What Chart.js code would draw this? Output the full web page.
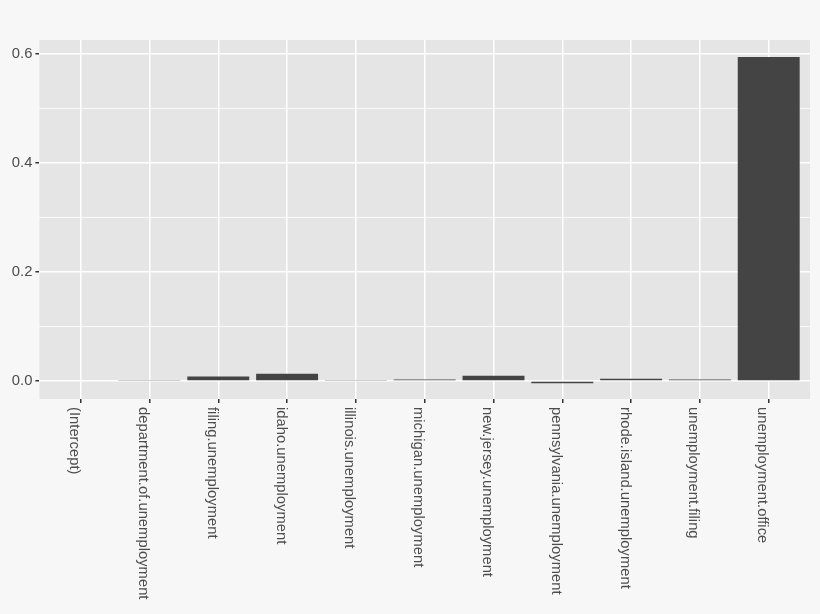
<!DOCTYPE html>
<html>
<head>
<meta charset="utf-8">
<script src="https://cdn.jsdelivr.net/npm/chart.js@4/dist/chart.umd.min.js"></script>
<style>
  html, body { margin: 0; padding: 0; background: #f7f7f7; }
  #wrap { width: 820px; height: 614px; }
</style>
</head>
<body>
<div id="wrap"><canvas id="chartCoef"></canvas></div>
<script>
/* --------------------------------------------
   Coefficient bar chart (ggplot look)
--------------------------------------------- */

const terms = [
  "(Intercept)",
  "department.of.unemployment",
  "filing.unemployment",
  "idaho.unemployment",
  "illinois.unemployment",
  "michigan.unemployment",
  "new.jersey.unemployment",
  "pennsylvania.unemployment",
  "rhode.island.unemployment",
  "unemployment.filing",
  "unemployment.office"
];
const coefs = [0, 0.0018, 0.0084, 0.0134, 0.0018, 0.0028, 0.0097, -0.004, 0.0042, 0.003, 0.595];
const yTicks = [0, 0.1, 0.2, 0.3, 0.4, 0.5, 0.6];

const FONT = "'Liberation Sans', Arial, sans-serif";
const TEXT = "#4d4d4d";

function isMajor(v) {
  return Math.round(v * 10) % 2 === 0;
}

// grey panel behind the plot area
const panelBg = {
  id: "panelBg",
  beforeDraw(chart) {
    const a = chart.chartArea, ctx = chart.ctx;
    ctx.save();
    ctx.fillStyle = "#e5e5e5";
    ctx.fillRect(a.left, a.top, a.right - a.left, a.bottom - a.top);
    ctx.restore();
  }
};

// x labels rotated clockwise, reading top to bottom
const xLabels = {
  id: "xLabels",
  afterDraw(chart) {
    const x = chart.scales.x, ctx = chart.ctx;
    ctx.save();
    ctx.fillStyle = TEXT;
    ctx.font = "14.8px " + FONT;
    ctx.textAlign = "left";
    ctx.textBaseline = "top";
    terms.forEach((t, i) => {
      const px = x.getPixelForValue(i);
      ctx.save();
      ctx.translate(px + 1, chart.chartArea.bottom + 8);
      ctx.rotate(Math.PI / 2);
      ctx.fillText(t, 0, 0);
      ctx.restore();
    });
    ctx.restore();
  }
};

new Chart(document.getElementById("chartCoef"), {
  type: "bar",
  data: {
    datasets: [{
      data: coefs.map((v, i) => ({ x: i, y: v })),
      backgroundColor: "#444444",
      borderWidth: 0,
      categoryPercentage: 0.9,
      barPercentage: 1
    }]
  },
  options: {
    responsive: true,
    maintainAspectRatio: false,
    animation: false,
    layout: { padding: { top: 40, right: 10, left: 0, bottom: 0 } },
    plugins: {
      legend: { display: false },
      tooltip: { enabled: false }
    },
    scales: {
      x: {
        type: "linear",
        min: -0.6,
        max: 10.6,
        offset: false,
        afterBuildTicks: s => { s.ticks = terms.map((t, i) => ({ value: i })); },
        afterFit: s => { s.height = 215; },
        border: { display: false },
        grid: {
          offset: false,
          color: "#ffffff",
          lineWidth: 1.5,
          tickColor: "#333333",
          tickLength: 4
        },
        ticks: { display: false }
      },
      y: {
        min: -0.033,
        max: 0.626,
        afterBuildTicks: s => { s.ticks = yTicks.map(v => ({ value: v })); },
        afterFit: s => { s.width = 39.4; },
        border: { display: false },
        grid: {
          color: "#ffffff",
          lineWidth: c => isMajor(c.tick.value) ? 1.5 : 0.75,
          tickColor: c => isMajor(c.tick.value) ? "#333333" : "rgba(0,0,0,0)",
          tickLength: 4
        },
        ticks: {
          padding: 3,
          color: TEXT,
          font: { size: 14.8, family: FONT },
          callback: v => isMajor(v) ? v.toFixed(1) : ""
        }
      }
    }
  },
  plugins: [panelBg, xLabels]
});
</script>
</body>
</html>
